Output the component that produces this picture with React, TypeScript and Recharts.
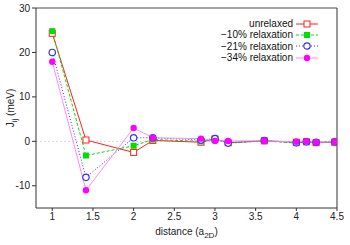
import React from "react";
import {
  LineChart,
  Line,
  XAxis,
  YAxis,
  ReferenceLine,
} from "recharts";

const distances = [1, 1.414, 2, 2.236, 2.828, 3, 3.162, 3.606, 4, 4.123, 4.243, 4.472];
const unrelaxed = [24.3, 0.3, -2.5, 0.2, -0.2, 0.5, -0.3, 0.1, -0.2, -0.1, -0.3, -0.2];
const relax10 = [24.8, -3.2, -1.0, 0.4, 0.0, 0.6, -0.4, 0.1, -0.4, -0.1, -0.2, -0.1];
const relax21 = [20.0, -8.1, 0.8, 0.8, 0.3, 0.6, -0.4, 0.2, -0.3, -0.1, -0.2, -0.1];
const relax34 = [17.9, -11.0, 3.0, 0.8, 0.6, 0.1, 0.1, 0.1, -0.1, 0.0, -0.2, -0.1];
const xTicks = [1, 1.5, 2, 2.5, 3, 3.5, 4, 4.5];
const yTicks = [-10, 0, 10, 20, 30];

const data = distances.map((d, i) => ({
  d,
  unrelaxed: unrelaxed[i],
  r10: relax10[i],
  r21: relax21[i],
  r34: relax34[i],
}));

const FONT = "Liberation Sans, Arial, sans-serif";

type Marker = "openSquare" | "square" | "openCircle" | "circle";

const series: { key: string; name: string; color: string; line: string; dash?: string; marker: Marker }[] = [
  { key: "unrelaxed", name: "unrelaxed", color: "#ff2020", line: "#ff2020", marker: "openSquare" },
  { key: "r10", name: "\u221210% relaxation", color: "#00e000", line: "#00e000", dash: "3 2", marker: "square" },
  { key: "r21", name: "\u221221% relaxation", color: "#3030ff", line: "#3030ff", dash: "1 2", marker: "openCircle" },
  { key: "r34", name: "\u221234% relaxation", color: "#ff00ff", line: "#ff88ff", marker: "circle" },
];

function drawMarker(m: Marker, color: string, cx: number, cy: number, k?: string | number) {
  if (m === "openSquare")
    return <rect key={k} x={cx - 3} y={cy - 3} width={6} height={6} fill="#fff" stroke={color} strokeWidth={1} />;
  if (m === "square")
    return <rect key={k} x={cx - 3} y={cy - 3} width={6} height={6} fill={color} stroke="none" />;
  if (m === "openCircle")
    return <circle key={k} cx={cx} cy={cy} r={3.2} fill="#fff" stroke={color} strokeWidth={1.2} />;
  return <circle key={k} cx={cx} cy={cy} r={3.2} fill={color} stroke="none" />;
}

function LegendBox() {
  return (
    <div style={{ position: "absolute", right: 32, top: 18, fontFamily: FONT, fontSize: 10, color: "#111" }}>
      {series.map((s) => (
        <div key={s.key} style={{ display: "flex", alignItems: "center", justifyContent: "flex-end", height: 11.3 }}>
          <span style={{ marginRight: 3 }}>{s.name}</span>
          <svg width={22} height={10}>
            <line x1={0} y1={5} x2={22} y2={5} stroke={s.line} strokeWidth={1} strokeDasharray={s.dash} />
            {drawMarker(s.marker, s.color, 11, 5)}
          </svg>
        </div>
      ))}
    </div>
  );
}

const XLabel = (props: any) => {
  const vb = props.viewBox;
  const cx = vb.x + vb.width / 2;
  return (
    <text x={cx} y={vb.y + 27} textAnchor="middle" fontFamily={FONT} fontSize={10} fill="#222">
      distance (a
      <tspan fontSize={8} dy={3}>2D</tspan>
      <tspan dy={-3}>)</tspan>
    </text>
  );
};

const YLabel = (props: any) => {
  const vb = props.viewBox;
  const cy = vb.y + vb.height / 2;
  const x = 14;
  return (
    <text x={x} y={cy} transform={`rotate(-90 ${x} ${cy})`} textAnchor="middle" fontFamily={FONT} fontSize={10} fill="#222">
      J
      <tspan fontSize={8} dy={3}>ij</tspan>
      <tspan dy={-3}> (meV)</tspan>
    </text>
  );
};

export default function App() {
  return (
    <div style={{ position: "fixed", left: 0, top: 0, width: 350, height: 245, background: "#fff" }}>
      <LineChart width={350} height={245} data={data} margin={{ top: 8, right: 13, bottom: 0, left: 0 }}>
        <XAxis
          dataKey="d"
          type="number"
          domain={[0.8, 4.5]}
          ticks={xTicks}
          tickSize={3}
          height={37}
          stroke="#333"
          tick={{ fill: "#222", fontSize: 10, fontFamily: FONT }}
          label={<XLabel />}
          allowDataOverflow
        />
        <YAxis
          type="number"
          domain={[-15, 30]}
          ticks={yTicks}
          tickSize={4}
          width={36}
          stroke="#333"
          tick={{ fill: "#222", fontSize: 10, fontFamily: FONT }}
          label={<YLabel />}
          allowDataOverflow
        />
        <ReferenceLine y={0} stroke="#ccc" strokeDasharray="2 2" strokeWidth={0.8} />
        <ReferenceLine y={30} stroke="#888" strokeWidth={1.5} />
        <ReferenceLine x={4.5} stroke="#333" strokeWidth={1} />
        {series.map((s) => (
          <Line
            key={s.key}
            dataKey={s.key}
            name={s.name}
            stroke={s.line}
            strokeWidth={1}
            strokeDasharray={s.dash}
            isAnimationActive={false}
            dot={(p: any) => drawMarker(s.marker, s.color, p.cx, p.cy, p.index)}
            activeDot={false}
          />
        ))}
      </LineChart>
      <LegendBox />
    </div>
  );
}
